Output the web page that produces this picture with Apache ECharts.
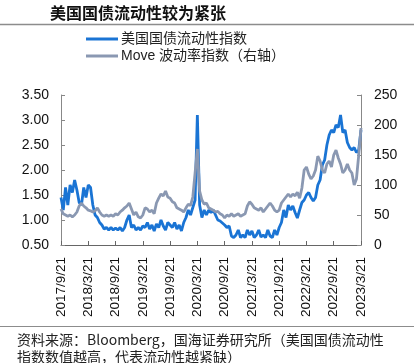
<!DOCTYPE html>
<html><head><meta charset="utf-8">
<script src="https://cdn.jsdelivr.net/npm/echarts@6/dist/echarts.min.js"></script>
<style>html,body{margin:0;padding:0;background:#fff}#c{width:414px;height:363px}</style>
</head><body><div id="c"></div>
<script>
const titleText = '美国国债流动性较为紧张';
const footLine1 = '资料来源：Bloomberg，国海证券研究所（美国国债流动性';
const footLine2 = '指数数值越高，代表流动性越紧缺）';
const seriesNames = ['美国国债流动性指数', 'Move 波动率指数（右轴）'];
const tickLabels = ['2017/9/21','2018/3/21','2018/9/21','2019/3/21','2019/9/21','2020/3/21','2020/9/21','2021/3/21','2021/9/21','2022/3/21','2022/9/21','2023/3/21'];
const pointsPerTick = 12;
// US Treasury liquidity index (left axis), half-month samples
const liquidity = [
1.45,1.20,1.65,1.30,1.70,1.55,1.80,1.60,1.35,1.30,1.65,1.45,1.70,
1.65,1.30,1.10,1.05,0.95,0.90,0.82,0.85,0.80,0.85,0.80,0.84,
0.80,0.85,0.78,0.85,1.00,1.10,0.85,0.90,0.80,0.85,0.80,0.88,
0.85,0.95,0.82,0.90,0.78,0.92,0.85,1.00,0.88,0.80,0.95,0.90,
0.85,0.95,0.82,0.90,0.78,0.95,1.05,1.20,1.10,1.25,1.40,3.10,
1.30,1.05,1.20,1.10,1.20,1.15,1.20,1.10,1.00,0.98,0.94,0.90,
0.85,0.88,0.68,0.65,0.70,0.80,0.65,0.70,0.65,0.80,0.70,0.78,
0.65,0.70,0.80,0.66,0.70,0.65,0.80,0.68,0.65,0.80,0.70,0.85,
0.95,1.20,1.05,1.30,1.20,1.28,1.15,1.04,1.20,1.35,1.40,1.50,
1.55,1.45,1.38,1.45,1.70,1.80,2.10,2.20,2.50,2.70,2.80,2.75,
2.90,2.85,3.10,2.75,2.80,2.55,2.45,2.40,2.45,2.35,2.40,2.80
];
// MOVE volatility index (right axis)
const move = [
60,52,50,48,50,47,50,55,65,70,65,62,58,
57,55,57,62,55,50,48,50,48,50,48,52,
50,55,58,62,65,70,60,50,55,47,45,50,
62,60,55,58,52,70,78,85,82,90,80,78,
72,70,62,60,58,55,62,68,66,80,120,160,
90,75,68,70,62,60,58,55,56,52,50,45,
50,48,52,48,50,52,48,50,52,65,72,68,
62,60,58,62,55,60,65,70,65,58,55,58,
70,75,80,85,80,85,82,88,78,95,125,130,
118,110,115,125,148,140,125,120,135,140,130,150,
158,145,135,120,125,135,125,120,100,110,150,195
];
const categories = liquidity.map((v, i) => (i % pointsPerTick === 0 ? tickLabels[i / pointsPerTick] : String(i)));
const font = 'Liberation Sans, Arial, Noto Sans CJK SC, sans-serif';
const chart = echarts.init(document.getElementById('c'), null, {renderer: 'canvas'});
chart.setOption({
  animation: false,
  backgroundColor: '#fff',
  textStyle: {fontFamily: font},
  graphic: [
    {type: 'text', left: 50, top: 5, style: {text: titleText, font: 'bold 16px "Noto Sans CJK SC", sans-serif', fill: '#111'}},
    {type: 'line', shape: {x1: 0, y1: 24.5, x2: 414, y2: 24.5}, style: {stroke: '#8c8c8c', lineWidth: 1.5}},
    {type: 'line', shape: {x1: 0, y1: 326.5, x2: 414, y2: 326.5}, style: {stroke: '#8c8c8c', lineWidth: 1}},
    {type: 'text', left: 17, top: 333, style: {text: footLine1, font: '14px "Noto Sans CJK SC", sans-serif', fill: '#222'}},
    {type: 'text', left: 17, top: 350, style: {text: footLine2, font: '14px "Noto Sans CJK SC", sans-serif', fill: '#222'}}
  ],
  legend: {
    orient: 'vertical', left: 81, top: 27, itemGap: 3, itemWidth: 32, itemHeight: 3,
    icon: 'rect',
    textStyle: {fontSize: 14, color: '#222', fontFamily: font, padding: [0,0,0,-2]},
    data: seriesNames
  },
  grid: {left: 61, right: 53, top: 95, bottom: 118},
  xAxis: {
    type: 'category', data: categories, boundaryGap: false,
    axisLine: {lineStyle: {color: '#666', width: 1}},
    axisTick: {inside: true, interval: pointsPerTick - 1, length: 4, lineStyle: {color: '#666'}},
    axisLabel: {interval: pointsPerTick - 1, rotate: 90, fontSize: 13.5, color: '#111', margin: 12, fontFamily: font}
  },
  yAxis: [
    {type: 'value', min: 0.5, max: 3.5, interval: 0.5, splitLine: {show: false},
     axisLine: {show: true, lineStyle: {color: '#888'}},
     axisTick: {show: true, inside: true, length: 4, lineStyle: {color: '#888'}},
     axisLabel: {formatter: v => v.toFixed(2), fontSize: 14, color: '#111', margin: 12, fontFamily: font}},
    {type: 'value', min: 0, max: 250, interval: 50, splitLine: {show: false},
     axisLine: {show: true, lineStyle: {color: '#888'}},
     axisTick: {show: true, inside: true, length: 4, lineStyle: {color: '#888'}},
     axisLabel: {fontSize: 14, color: '#111', margin: 13, fontFamily: font}}
  ],
  series: [
    {name: seriesNames[0], type: 'line', data: liquidity, yAxisIndex: 0, showSymbol: false, symbol: 'none',
     lineStyle: {color: '#1a74d4', width: 2.8}, itemStyle: {color: '#1a74d4'}},
    {name: seriesNames[1], type: 'line', data: move, yAxisIndex: 1, showSymbol: false, symbol: 'none',
     lineStyle: {color: '#8a98b2', width: 2.8}, itemStyle: {color: '#8a98b2'}}
  ]
});
</script></body></html>
